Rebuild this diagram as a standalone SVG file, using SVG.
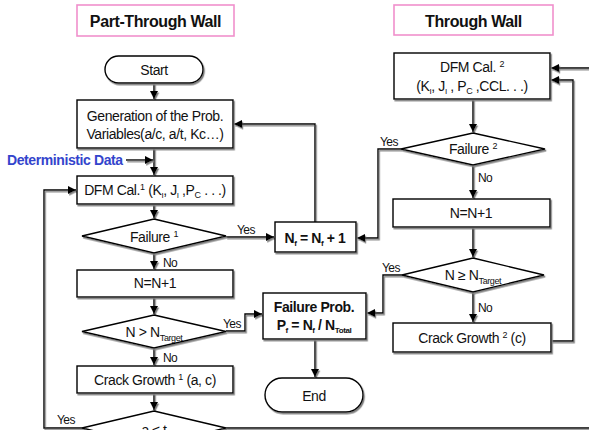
<svg xmlns="http://www.w3.org/2000/svg" width="589" height="430" viewBox="0 0 589 430">
<defs>
<filter id="sh" filterUnits="userSpaceOnUse" x="-20" y="-20" width="640" height="480">
<feDropShadow dx="1.2" dy="1.6" stdDeviation="0" flood-color="#808080" flood-opacity="1"/>
</filter>
<marker id="ah" markerUnits="userSpaceOnUse" markerWidth="9" markerHeight="9" refX="8" refY="4" orient="auto">
<path d="M0,0 L8,4 L0,8 z" fill="#000"/>
</marker>
</defs>
<style>
.box{fill:#fff;stroke:#000;stroke-width:1.4;filter:url(#sh)}
.title{fill:#fff;stroke:#f090cc;stroke-width:1.6}
.t{font-family:"Liberation Sans",Arial,sans-serif;font-size:14px;letter-spacing:-0.4px;text-anchor:middle;fill:#111}
.b{font-weight:bold}
.lbl{font-family:"Liberation Sans",Arial,sans-serif;font-size:12px;letter-spacing:-0.6px;fill:#111}
.c{fill:none;stroke:#000;stroke-width:1.4;filter:url(#sh)}
.a{marker-end:url(#ah)}
.det{font-family:"Liberation Sans",Arial,sans-serif;font-size:14px;font-weight:bold;letter-spacing:-0.4px;fill:#3344cc}
</style>

<g id="title-part">
<rect class="title" x="77" y="5" width="157" height="31"/>
<text class="t b" x="155.5" y="27" style="font-size:16px">Part-Through Wall</text>
</g>
<g id="title-through">
<rect class="title" x="394" y="5" width="159" height="30"/>
<text class="t b" x="473.5" y="27" style="font-size:16px">Through Wall</text>
</g>

<g id="connectors">
<path class="c a" d="M154,83 V99"/>
<path class="c a" d="M154,148 V175"/>
<path class="c a" d="M126,160 H153"/>
<path class="c a" d="M154,204 V218"/>
<path class="c a" d="M226,237 H274"/>
<path class="c a" d="M154,253 V269"/>
<path class="c a" d="M154,297 V314"/>
<path class="c a" d="M226,331 H245 V314 H262"/>
<path class="c a" d="M154,348 V365"/>
<path class="c a" d="M154,393 V410"/>
<path class="c a" d="M82,428 H44 V190 H76"/>
<path class="c" d="M226,428 H592"/>
<path class="c a" d="M592,68 H551"/>
<path class="c a" d="M315,222 V124 H234"/>
<path class="c a" d="M473,99 V132"/>
<path class="c a" d="M401,149 H378 V238 H357"/>
<path class="c a" d="M473,165 V198"/>
<path class="c a" d="M473,227 V257"/>
<path class="c a" d="M402,275 H383 V313 H367"/>
<path class="c a" d="M473,292 V322"/>
<path class="c a" d="M551,341 H573 V80 H551"/>
<path class="c a" d="M315,339 V377"/>
</g>

<g id="det">
<text class="det" x="7" y="165">Deterministic Data</text>
</g>

<g id="start">
<rect class="box" x="105" y="56" width="98" height="27" rx="13.5"/>
<text class="t" x="154" y="75">Start</text>
</g>
<g id="gen">
<rect class="box" x="77" y="100" width="156" height="48"/>
<text class="t" x="155" y="121">Generation of the Prob.</text>
<text class="t" x="155" y="139">Variables(a/c, a/t, Kc…)</text>
</g>
<g id="dfm1">
<rect class="box" x="77" y="176" width="156" height="28"/>
<text class="t" x="155" y="195">DFM Cal.<tspan dy="-5" style="font-size:9px">1</tspan><tspan dy="5"> (K</tspan><tspan dy="3" style="font-size:8px">I</tspan><tspan dy="-3">, J</tspan><tspan dy="3" style="font-size:8px">I</tspan><tspan dy="-3"> ,P</tspan><tspan dy="3" style="font-size:9px">C</tspan><tspan dy="-3"> . . .)</tspan></text>
</g>
<g id="fail1">
<polygon class="box" points="154,219 226,236 154,253 82,236"/>
<text class="t" x="154" y="242">Failure <tspan dy="-5" style="font-size:9px">1</tspan></text>
</g>
<g id="nn1">
<rect class="box" x="77" y="270" width="156" height="27"/>
<text class="t" x="155" y="288">N=N+1</text>
</g>
<g id="ntgt1">
<polygon class="box" points="154,315 226,331.5 154,348 82,331.5"/>
<text class="t" x="154" y="337">N &gt; N<tspan dy="4" style="font-size:9px">Target</tspan></text>
</g>
<g id="crack1">
<rect class="box" x="77" y="366" width="156" height="27"/>
<text class="t" x="155" y="385">Crack Growth <tspan dy="-5" style="font-size:9px">1</tspan><tspan dy="5"> (a, c)</tspan></text>
</g>
<g id="at">
<polygon class="box" points="154,411 226,428 154,445 82,428"/>
<text class="t" x="154" y="435">a ≤ t</text>
</g>
<g id="nf">
<rect class="box" x="275" y="222" width="81" height="30"/>
<text class="t b" x="315" y="243">N<tspan dy="3" style="font-size:8px">f</tspan><tspan dy="-3"> = N</tspan><tspan dy="3" style="font-size:8px">f</tspan><tspan dy="-3"> + 1</tspan></text>
</g>
<g id="fprob">
<rect class="box" x="263" y="293" width="103" height="46"/>
<text class="t b" x="314" y="312">Failure Prob.</text>
<text class="t b" x="314" y="330">P<tspan dy="3" style="font-size:8px">f</tspan><tspan dy="-3"> = N</tspan><tspan dy="3" style="font-size:8px">f</tspan><tspan dy="-3"> / N</tspan><tspan dy="3" style="font-size:8px">Total</tspan></text>
</g>
<g id="end">
<rect class="box" x="265" y="378" width="98" height="34" rx="17"/>
<text class="t" x="314" y="401">End</text>
</g>
<g id="dfm2">
<rect class="box" x="394" y="53" width="156" height="46"/>
<text class="t" x="472" y="72">DFM Cal. <tspan dy="-5" style="font-size:9px">2</tspan></text>
<text class="t" x="472" y="91">(K<tspan dy="3" style="font-size:8px">I</tspan><tspan dy="-3">, J</tspan><tspan dy="3" style="font-size:8px">I</tspan><tspan dy="-3"> , P</tspan><tspan dy="3" style="font-size:9px">C</tspan><tspan dy="-3"> ,CCL. . .)</tspan></text>
</g>
<g id="fail2">
<polygon class="box" points="473,133 545,149 473,165 401,149"/>
<text class="t" x="473" y="154">Failure <tspan dy="-5" style="font-size:9px">2</tspan></text>
</g>
<g id="nn2">
<rect class="box" x="393" y="199" width="157" height="28"/>
<text class="t" x="471" y="218">N=N+1</text>
</g>
<g id="ntgt2">
<polygon class="box" points="473,258 544,275 473,292 402,275"/>
<text class="t" x="473" y="280">N ≥ N<tspan dy="4" style="font-size:9px">Target</tspan></text>
</g>
<g id="crack2">
<rect class="box" x="393" y="323" width="158" height="29"/>
<text class="t" x="472" y="343">Crack Growth <tspan dy="-5" style="font-size:9px">2</tspan><tspan dy="5"> (c)</tspan></text>
</g>

<g id="labels">
<text class="lbl" x="237" y="234">Yes</text>
<text class="lbl" x="163" y="267">No</text>
<text class="lbl" x="223" y="328">Yes</text>
<text class="lbl" x="163" y="362">No</text>
<text class="lbl" x="57" y="424">Yes</text>
<text class="lbl" x="380" y="146">Yes</text>
<text class="lbl" x="478" y="182">No</text>
<text class="lbl" x="382" y="272">Yes</text>
<text class="lbl" x="478" y="312">No</text>
</g>
</svg>
